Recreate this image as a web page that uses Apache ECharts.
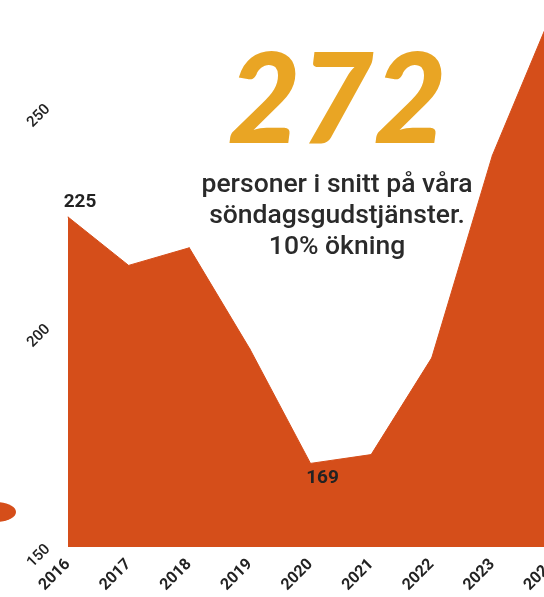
<!DOCTYPE html>
<html>
<head>
<meta charset="utf-8">
<script src="https://cdn.jsdelivr.net/npm/echarts@6/dist/echarts.min.js"></script>
<style>
  html, body { margin: 0; padding: 0; background: #fff; }
  #chart { width: 544px; height: 597px; }
</style>
</head>
<body>
<div id="chart"></div>
<script>
const years = ['2016', '2017', '2018', '2019', '2020', '2021', '2022', '2023', '2024'];
const visitors = [225, 214, 218, 195, 169, 171, 193, 239, 272];
const labelled = { 0: 'top', 4: 'bottom' }; // only these points carry a value label
const headline = '272';
const caption = 'personer i snitt på våra\nsöndagsgudstjänster.\n10% ökning';

const orange = '#d54e1a';
const chart = echarts.init(document.getElementById('chart'));

chart.setOption({
  backgroundColor: '#fff',
  animation: false,
  grid: { left: 68, right: -9, top: -113, bottom: 50, outerBoundsMode: 'none', containLabel: false },
  xAxis: {
    type: 'category',
    data: years,
    boundaryGap: false,
    axisLine: { show: false },
    axisTick: { show: false },
    axisLabel: { rotate: 45, margin: 15, color: '#222', fontFamily: 'Roboto', fontWeight: 'bold', fontSize: 16 }
  },
  yAxis: {
    type: 'value',
    min: 150,
    max: 300,
    interval: 50,
    splitLine: { show: false },
    axisLine: { show: false },
    axisTick: { show: false },
    axisLabel: { rotate: 45, margin: 20, color: '#222', fontFamily: 'Roboto', fontWeight: 500, fontSize: 15 }
  },
  series: [{
    type: 'line',
    data: visitors.map((v, i) => labelled[i] ? {
      value: v,
      label: { show: true, position: labelled[i], offset: [12, 0] }
    } : v),
    symbol: 'circle',
    symbolSize: 1,
    showSymbol: true,
    itemStyle: { color: orange },
    lineStyle: { color: orange, width: 1 },
    areaStyle: { color: orange, opacity: 1 },
    label: { color: '#222', fontFamily: 'Roboto', fontWeight: 'bold', fontSize: 19, distance: 5 }
  }],
  graphic: [
    { type: 'ellipse', shape: { cx: -4, cy: 512, rx: 20, ry: 10 }, style: { fill: orange } },
    {
      type: 'text', x: 337, y: 102,
      style: {
        text: headline, align: 'center', verticalAlign: 'middle',
        fill: '#e9a524', font: 'italic 900 126px Lato'
      }
    },
    {
      type: 'text', x: 337, y: 216,
      style: {
        text: caption, align: 'center', verticalAlign: 'middle',
        fill: '#2a2a2a', font: '500 26.5px Roboto', lineHeight: 31
      }
    }
  ]
});
</script>
</body>
</html>
